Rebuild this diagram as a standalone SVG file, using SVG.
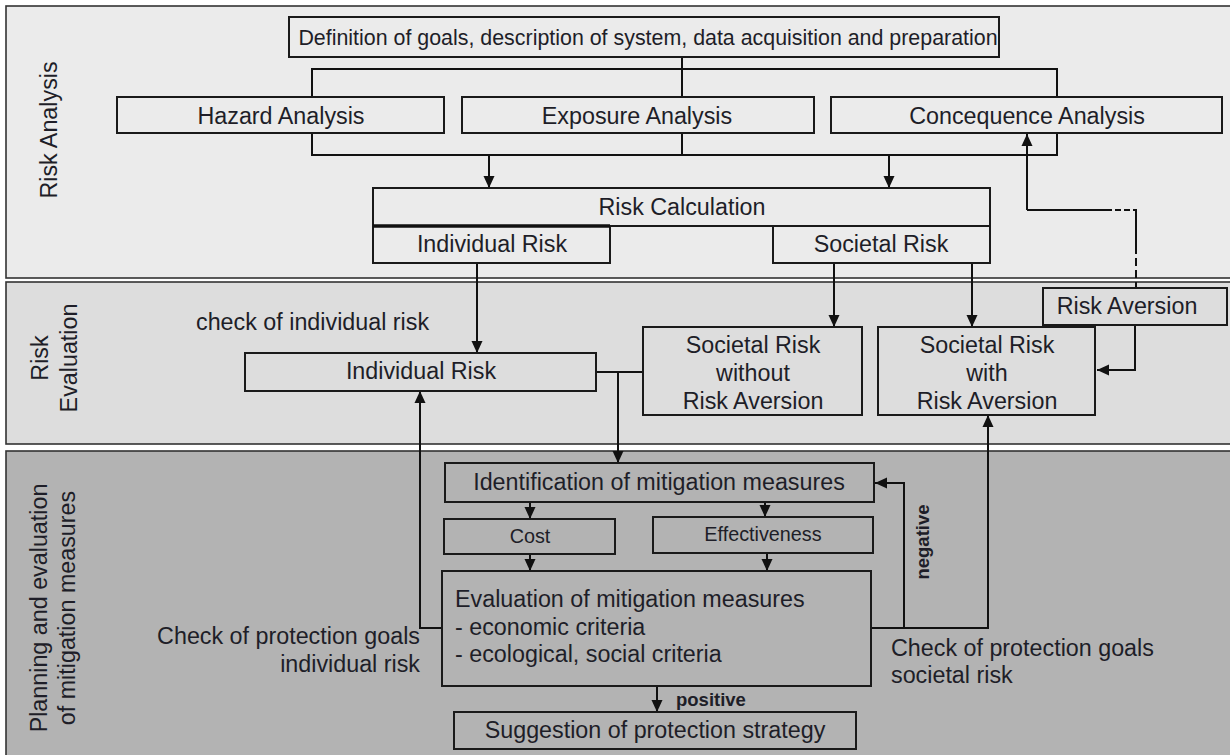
<svg xmlns="http://www.w3.org/2000/svg" width="1230" height="755" viewBox="0 0 1230 755">
<style>
text{font-family:"Liberation Sans",Arial,sans-serif;font-size:23.3px;fill:#1e1e28}
.m{text-anchor:middle}
.e{text-anchor:end}
.b{font-weight:bold;font-size:18.5px}
.s{font-size:19.8px}
.box{fill:none;stroke:#1a1a1a;stroke-width:2}
.ln{fill:none;stroke:#111;stroke-width:2}
.ar{fill:none;stroke:#111;stroke-width:2;marker-end:url(#ah)}
.pan{stroke:#333;stroke-width:1.6}
</style>
<defs>
<marker id="ah" markerUnits="userSpaceOnUse" markerWidth="14" markerHeight="14" viewBox="0 0 14 14" refX="13" refY="7" orient="auto">
<path d="M1,1.5 L13,7 L1,12.5 Z" fill="#111"/>
</marker>
</defs>
<rect width="1230" height="755" fill="#ffffff"/>
<g id="panel-analysis">
<rect class="pan" x="6" y="6" width="1230" height="272" fill="#ebebeb"/>
<text class="m" transform="translate(57,130) rotate(-90)">Risk Analysis</text>
</g>
<g id="panel-evaluation">
<rect class="pan" x="6" y="282" width="1230" height="162" fill="#dddddd"/>
<text class="m" transform="translate(48,358) rotate(-90)">Risk</text>
<text class="m" transform="translate(77,358) rotate(-90)">Evaluation</text>
<text x="196" y="330">check of individual risk</text>
</g>
<g id="panel-planning">
<rect class="pan" x="6" y="451" width="1230" height="310" fill="#b3b3b3"/>
<text class="m" transform="translate(47,608) rotate(-90)">Planning and evaluation</text>
<text class="m" transform="translate(75,608) rotate(-90)">of mitigation measures</text>
<text class="e" x="420" y="644">Check of protection goals</text>
<text class="e" x="420" y="672">individual risk</text>
<text x="891" y="656">Check of protection goals</text>
<text x="891" y="683">societal risk</text>
</g>
<g id="connectors">
<polyline class="ln" points="682,57 682,69"/>
<polyline class="ln" points="312,97 312,69 1057,69 1057,97"/>
<polyline class="ln" points="682,69 682,97"/>
<polyline class="ln" points="312,133 312,155 1057,155 1057,133"/>
<polyline class="ln" points="682,133 682,155"/>
<polyline class="ar" points="489,155 489,188"/>
<polyline class="ar" points="889,155 889,188"/>
<polyline class="ar" points="1027,210 1027,134"/>
<polyline class="ln" points="1027,210 1106,210"/>
<polyline class="ln" points="1106,210 1136,210" stroke-dasharray="6,3"/>
<polyline class="ln" points="1136,209 1136,246"/>
<polyline class="ln" points="1136,246 1136,288" stroke-dasharray="8,4"/>
<polyline class="ar" points="477,263 477,353"/>
<polyline class="ar" points="834,263 834,327"/>
<polyline class="ar" points="972,263 972,327"/>
<polyline class="ar" points="1135,325 1135,370 1097,370"/>
<polyline class="ln" points="596,372 618,372"/>
<polyline class="ln" points="643,372 618,372"/>
<polyline class="ar" points="618,372 618,463"/>
<polyline class="ar" points="530,502 530,519"/>
<polyline class="ar" points="765,502 765,517"/>
<polyline class="ar" points="530,554 530,571"/>
<polyline class="ar" points="767,553 767,571"/>
<polyline class="ar" points="657,686 657,712"/>
<polyline class="ar" points="442,628 420,628 420,391"/>
<polyline class="ar" points="871,628 988,628 988,415"/>
<polyline class="ar" points="904,628 904,483 875,483"/>
<text class="b" x="676" y="706">positive</text>
<text class="b m" transform="translate(929,542) rotate(-90)">negative</text>
</g>
<g id="n-definition">
<rect class="box" x="289" y="17" width="710" height="40"/>
<text class="m" x="648" y="45" style="font-size:21.4px">Definition of goals, description of system, data acquisition and preparation</text>
</g>
<g id="n-hazard">
<rect class="box" x="117" y="97" width="327" height="36"/>
<text class="m" x="281" y="124">Hazard Analysis</text>
</g>
<g id="n-exposure">
<rect class="box" x="462" y="97" width="352" height="36"/>
<text class="m" x="637" y="124">Exposure Analysis</text>
</g>
<g id="n-consequence">
<rect class="box" x="831" y="97" width="391" height="36"/>
<text class="m" x="1027" y="124">Concequence Analysis</text>
</g>
<g id="n-riskcalc">
<rect class="box" x="373" y="188" width="617" height="38"/>
<text class="m" x="682" y="215">Risk Calculation</text>
</g>
<g id="n-calc-individual">
<rect class="box" x="373" y="226" width="237" height="37"/>
<line x1="373" y1="226" x2="610" y2="226" stroke="#111" stroke-width="3.5"/>
<text class="m" x="492" y="252">Individual Risk</text>
</g>
<g id="n-calc-societal">
<rect class="box" x="773" y="226" width="217" height="37"/>
<text class="m" x="881" y="252">Societal Risk</text>
</g>
<g id="n-risk-aversion">
<rect class="box" x="1043" y="288" width="184" height="37"/>
<text class="m" x="1127" y="314">Risk Aversion</text>
</g>
<g id="n-eval-individual">
<rect class="box" x="245" y="353" width="351" height="38"/>
<text class="m" x="421" y="379">Individual Risk</text>
</g>
<g id="n-societal-without">
<rect class="box" x="643" y="327" width="219" height="88"/>
<text class="m" x="753" y="353">Societal Risk</text>
<text class="m" x="753" y="381">without</text>
<text class="m" x="753" y="409">Risk Aversion</text>
</g>
<g id="n-societal-with">
<rect class="box" x="878" y="327" width="217" height="88"/>
<text class="m" x="987" y="353">Societal Risk</text>
<text class="m" x="987" y="381">with</text>
<text class="m" x="987" y="409">Risk Aversion</text>
</g>
<g id="n-identification">
<rect class="box" x="445" y="463" width="429" height="39"/>
<text class="m" x="659" y="490">Identification of mitigation measures</text>
</g>
<g id="n-cost">
<rect class="box" x="444" y="519" width="171" height="35"/>
<text class="m s" x="530" y="543">Cost</text>
</g>
<g id="n-effectiveness">
<rect class="box" x="653" y="517" width="220" height="36"/>
<text class="m s" x="763" y="541">Effectiveness</text>
</g>
<g id="n-evaluation">
<rect class="box" x="442" y="571" width="429" height="115"/>
<text x="455" y="607">Evaluation of mitigation measures</text>
<text x="455" y="635">- economic criteria</text>
<text x="455" y="662">- ecological, social criteria</text>
</g>
<g id="n-suggestion">
<rect class="box" x="454" y="712" width="402" height="37"/>
<text class="m" x="655" y="738">Suggestion of protection strategy</text>
</g>
</svg>
